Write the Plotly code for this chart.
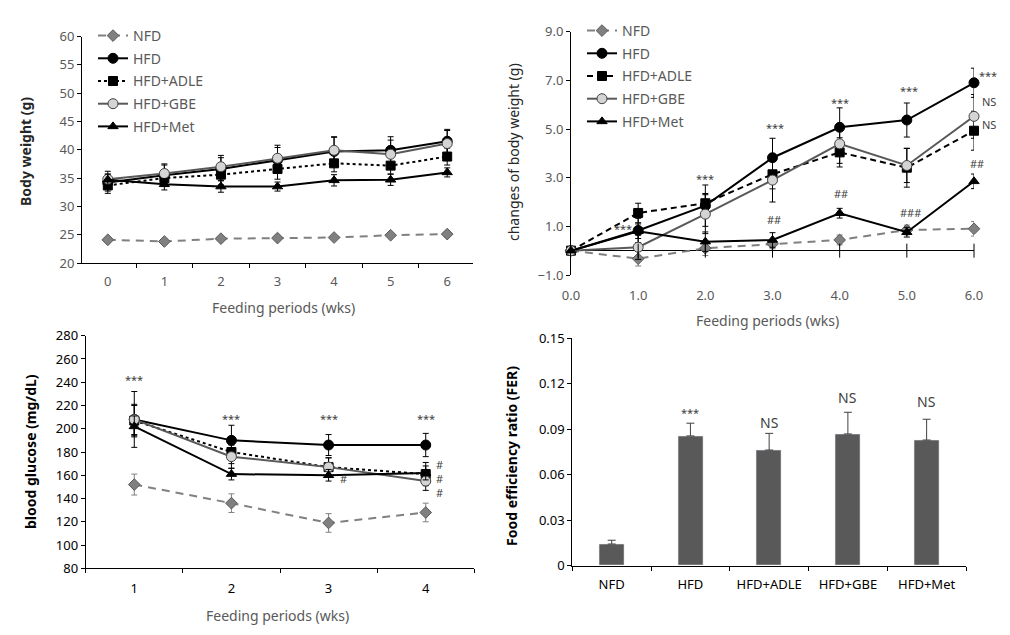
import plotly.graph_objects as go

# ---------------- data ----------------
weeks_a = ["0", "1", "2", "3", "4", "5", "6"]
bw_nfd = [24.1, 23.8, 24.3, 24.4, 24.5, 24.9, 25.1]
bw_hfd = [34.2, 35.5, 36.6, 38.2, 39.7, 39.9, 41.5]
bw_adle = [33.7, 35.0, 35.6, 36.6, 37.6, 37.2, 38.8]
bw_gbe = [34.8, 35.8, 37.0, 38.5, 39.9, 39.2, 41.1]
bw_met = [34.7, 33.9, 33.5, 33.5, 34.6, 34.7, 36.0]
bw_nfd_err = [0.3, 0.3, 0.3, 0.3, 0.3, 0.3, 0.3]
bw_hfd_err = [1.5, 1.8, 2.0, 2.2, 2.5, 2.4, 2.1]
bw_adle_err = [1.4, 1.5, 1.8, 1.8, 1.5, 1.5, 1.5]
bw_gbe_err = [1.4, 1.7, 2.0, 2.3, 2.4, 2.5, 2.3]
bw_met_err = [1.0, 1.0, 1.0, 0.8, 1.0, 1.0, 0.8]

weeks_b = [0, 1, 2, 3, 4, 5, 6]
cbw_nfd = [0, -0.33, 0.10, 0.28, 0.44, 0.85, 0.90]
cbw_hfd = [0, 0.83, 1.85, 3.82, 5.07, 5.37, 6.90]
cbw_adle = [0, 1.55, 1.95, 3.14, 4.04, 3.41, 4.93]
cbw_gbe = [0, 0.14, 1.50, 2.90, 4.39, 3.50, 5.52]
cbw_met = [0, 0.80, 0.37, 0.44, 1.54, 0.76, 2.85]
cbw_nfd_err = [0, 0.3, 0.3, 0.2, 0.2, 0.2, 0.3]
cbw_hfd_err = [0, 0.5, 0.85, 0.8, 0.8, 0.7, 0.6]
cbw_adle_err = [0, 0.4, 0.4, 0.6, 0.6, 0.8, 0.8]
cbw_gbe_err = [0, 0.5, 0.8, 0.9, 0.8, 0.7, 0.9]
cbw_met_err = [0, 0.3, 0.4, 0.3, 0.2, 0.2, 0.3]

weeks_c = ["1", "2", "3", "4"]
bg_nfd = [152, 136, 119, 128]
bg_hfd = [208, 190, 186, 186]
bg_adle = [207, 180, 167, 161]
bg_gbe = [208, 176, 167, 155]
bg_met = [202, 161, 160, 162]
bg_nfd_err = [9, 8, 8, 8]
bg_hfd_err = [24, 13, 9, 10]
bg_adle_err = [13, 10, 8, 10]
bg_gbe_err = [13, 10, 8, 8]
bg_met_err = [9, 5, 5, 6]

groups = ["NFD", "HFD", "HFD+ADLE", "HFD+GBE", "HFD+Met"]
fer = [0.0143, 0.0856, 0.0763, 0.0869, 0.0829]
fer_err = [0.0025, 0.0084, 0.0110, 0.0143, 0.0137]

# significance marks: (x, y, text, xshift)
sig_b = [(1, 0.93, "***", -15), (2, 2.95, "***", 0), (3, 5.06, "***", 2), (4, 6.1, "***", 0),
         (5, 6.58, "***", 2), (6, 7.19, "***", 14), (6, 6.12, "NS", 15), (6, 5.2, "NS", 15),
         (3, 1.3, "##", 1), (4, 2.35, "##", 1), (5, 1.55, "###", 4), (6, 3.57, "##", 3)]
# panel C uses category index (0 = week 1)
sig_c = [(0, 242, "***", 0), (1, 209, "***", 0), (2, 209, "***", 0), (3, 209, "***", 0),
         (2, 157.6, "#", 15), (3, 169, "#", 14), (3, 157, "#", 14), (3, 145, "#", 14)]
sig_d = [("HFD", 0.1008, "***"), ("HFD+ADLE", 0.0944, "NS"), ("HFD+GBE", 0.111, "NS"),
         ("HFD+Met", 0.108, "NS")]

FONT = "Noto Sans"
GRAY_TXT = "#595959"

styles = {
    "NFD": dict(line=dict(color="#808080", width=2, dash="8px,6px"),
                marker=dict(symbol="diamond", size=9, color="#808080", line=dict(color="#595959", width=1))),
    "HFD": dict(line=dict(color="black", width=2),
                marker=dict(symbol="circle", size=10, color="black", line=dict(color="black", width=1))),
    "HFD+ADLE": dict(line=dict(color="black", width=2, dash="dot"),
                     marker=dict(symbol="square", size=9, color="black", line=dict(color="black", width=1))),
    "HFD+GBE": dict(line=dict(color="#595959", width=2),
                    marker=dict(symbol="circle", size=10, color="#d4d4d4", line=dict(color="#404040", width=1))),
    "HFD+Met": dict(line=dict(color="black", width=2),
                    marker=dict(symbol="triangle-up", size=9, color="black", line=dict(color="black", width=1))),
}

fig = go.Figure()

def add_series(x, ys, errs, xa, ya, legend=None, adle_dash="dot"):
    names = ["NFD", "HFD", "HFD+ADLE", "HFD+GBE", "HFD+Met"]
    for name, y, e in zip(names, ys, errs):
        st = styles[name]
        line = dict(st["line"])
        if name == "HFD+ADLE":
            line["dash"] = adle_dash
        marker = dict(st["marker"])
        ecol = "#808080" if name == "NFD" else "black"
        fig.add_trace(go.Scatter(
            x=x, y=y, mode="lines+markers", name=name, line=line, marker=marker,
            error_y=dict(type="data", array=e, visible=True, color=ecol, thickness=1, width=3),
            xaxis=xa, yaxis=ya, cliponaxis=False,
            showlegend=legend is not None, legend=legend if legend else "legend",
            legendgroup=(legend or "none") + name,
        ))

add_series(weeks_a, [bw_nfd, bw_hfd, bw_adle, bw_gbe, bw_met],
           [bw_nfd_err, bw_hfd_err, bw_adle_err, bw_gbe_err, bw_met_err], "x", "y", legend="legend")
add_series(weeks_b, [cbw_nfd, cbw_hfd, cbw_adle, cbw_gbe, cbw_met],
           [cbw_nfd_err, cbw_hfd_err, cbw_adle_err, cbw_gbe_err, cbw_met_err], "x2", "y2",
           legend="legend2", adle_dash="6px,4px")
add_series(weeks_c, [bg_nfd, bg_hfd, bg_adle, bg_gbe, bg_met],
           [bg_nfd_err, bg_hfd_err, bg_adle_err, bg_gbe_err, bg_met_err], "x3", "y3")

# zero-line tick marks for panel B
fig.add_trace(go.Scatter(x=weeks_b[1:], y=[0] * (len(weeks_b) - 1), mode="markers",
                         marker=dict(symbol="line-ns-open", size=10, color="black",
                                     line=dict(color="black", width=1)),
                         xaxis="x2", yaxis="y2", showlegend=False, cliponaxis=False, hoverinfo="skip"))

fig.add_trace(go.Bar(x=groups, y=fer, width=0.32, marker=dict(color="#595959"),
                     error_y=dict(type="data", array=fer_err, arrayminus=[0] * len(fer), symmetric=False,
                                  visible=True, color="#404040", thickness=1, width=4),
                     xaxis="x4", yaxis="y4", showlegend=False))

tickfont_gray = dict(family=FONT, size=13, color=GRAY_TXT)
tickfont_dark = dict(family=FONT, size=13, color="black")
axis_common = dict(showgrid=False, zeroline=False, showline=True, linecolor="black", linewidth=1,
                   ticks="outside", ticklen=4, tickcolor="black", automargin=False)

# page has an 8px body margin: figure is placed at (8, 8)
OFF = 8
W, H = 1010 - 2 * OFF, 635 - 2 * OFF

def px_x(p):
    return (p - OFF) / W

def px_y(p):
    return 1 - (p - OFF) / H

fig.update_layout(
    width=W, height=H, margin=dict(l=0, r=0, t=0, b=0, autoexpand=False),
    paper_bgcolor="white", plot_bgcolor="white",
    font=dict(family=FONT, color=GRAY_TXT),
    bargap=0,
    xaxis=dict(domain=[px_x(82), px_x(473)], anchor="y", type="category", tickson="boundaries",
               tickfont=tickfont_gray, ticklabelstandoff=6, **axis_common),
    yaxis=dict(domain=[px_y(263), px_y(36.5)], anchor="x", range=[20, 60], dtick=5,
               tickfont=tickfont_gray, **axis_common),
    xaxis2=dict(domain=[px_x(571), px_x(974)], anchor="y2", range=[0, 6], tickvals=weeks_b,
                tickformat=".1f", showgrid=False, zeroline=False, showline=False, ticks="",
                tickfont=tickfont_gray, ticklabelstandoff=11, automargin=False),
    yaxis2=dict(domain=[px_y(275), px_y(31.7)], anchor="x2", range=[-1, 9],
                tickvals=[-1, 1, 3, 5, 7, 9], tickformat=".1f", tickfont=tickfont_gray,
                showgrid=False, zeroline=True, zerolinecolor="black", zerolinewidth=1,
                showline=True, linecolor="black", linewidth=1, ticks="outside", ticklen=4,
                tickcolor="black", automargin=False),
    xaxis3=dict(domain=[px_x(85.7), px_x(474.3)], anchor="y3", type="category", tickson="boundaries",
                tickfont=tickfont_dark, ticklabelstandoff=8, range=[-0.5, 3.5], **axis_common),
    yaxis3=dict(domain=[px_y(568.3), px_y(335.7)], anchor="x3", range=[80, 280], dtick=20,
                tickfont=tickfont_dark, **axis_common),
    xaxis4=dict(domain=[px_x(572.3), px_x(966)], anchor="y4", type="category", tickson="boundaries",
                tickfont=tickfont_dark, ticklabelstandoff=7, range=[-0.5, 4.5], **axis_common),
    yaxis4=dict(domain=[px_y(565.7), px_y(338.3)], anchor="x4", range=[0, 0.15],
                tickvals=[0, 0.03, 0.06, 0.09, 0.12, 0.15],
                ticktext=["0", "0.03", "0.06", "0.09", "0.12", "0.15"],
                tickfont=tickfont_dark, **axis_common),
    legend=dict(x=px_x(93), y=px_y(20), xanchor="left", yanchor="top", bgcolor="rgba(0,0,0,0)",
                font=dict(family=FONT, size=14, color=GRAY_TXT), tracegroupgap=1.5, itemwidth=30),
    legend2=dict(x=px_x(582), y=px_y(15), xanchor="left", yanchor="top", bgcolor="rgba(0,0,0,0)",
                 font=dict(family=FONT, size=14, color=GRAY_TXT), tracegroupgap=1.5, itemwidth=30),
)

ann = []
def title(text, x, y, rot=0, color="black", size=14, bold=False):
    t = f"<b>{text}</b>" if bold else text
    ann.append(dict(text=t, x=px_x(x), y=px_y(y), xref="paper", yref="paper", showarrow=False,
                    textangle=rot, font=dict(family=FONT, size=size, color=color),
                    xanchor="center", yanchor="middle"))

title("Body weight (g)", 25, 152, rot=-90, color="#262626", bold=True)
title("Feeding periods (wks)", 283, 307, color=GRAY_TXT)
title("changes of body weight (g)", 513, 152, rot=-90, color="#262626")
title("Feeding periods (wks)", 767, 320, color=GRAY_TXT)
title("blood glucose (mg/dL)", 30, 452, rot=-90, color="black", bold=True)
title("Feeding periods (wks)", 277, 615, color=GRAY_TXT)
title("Food efficiency ratio (FER)", 511, 456, rot=-90, color="black", bold=True)

for x, y, t, sh in sig_b:
    ann.append(dict(text=t, x=x, y=y, xref="x2", yref="y2", showarrow=False, xshift=sh,
                    font=dict(family=FONT, size=11, color="#404040")))
for x, y, t, sh in sig_c:
    ann.append(dict(text=t, x=x, y=y, xref="x3", yref="y3", showarrow=False, xshift=sh,
                    font=dict(family=FONT, size=11, color="#404040")))
for x, y, t in sig_d:
    ann.append(dict(text=t, x=x, y=y, xref="x4", yref="y4", showarrow=False,
                    font=dict(family=FONT, size=11 if t == "***" else 14, color="#404040")))

fig.update_layout(annotations=ann)
fig.write_html("out.html")
